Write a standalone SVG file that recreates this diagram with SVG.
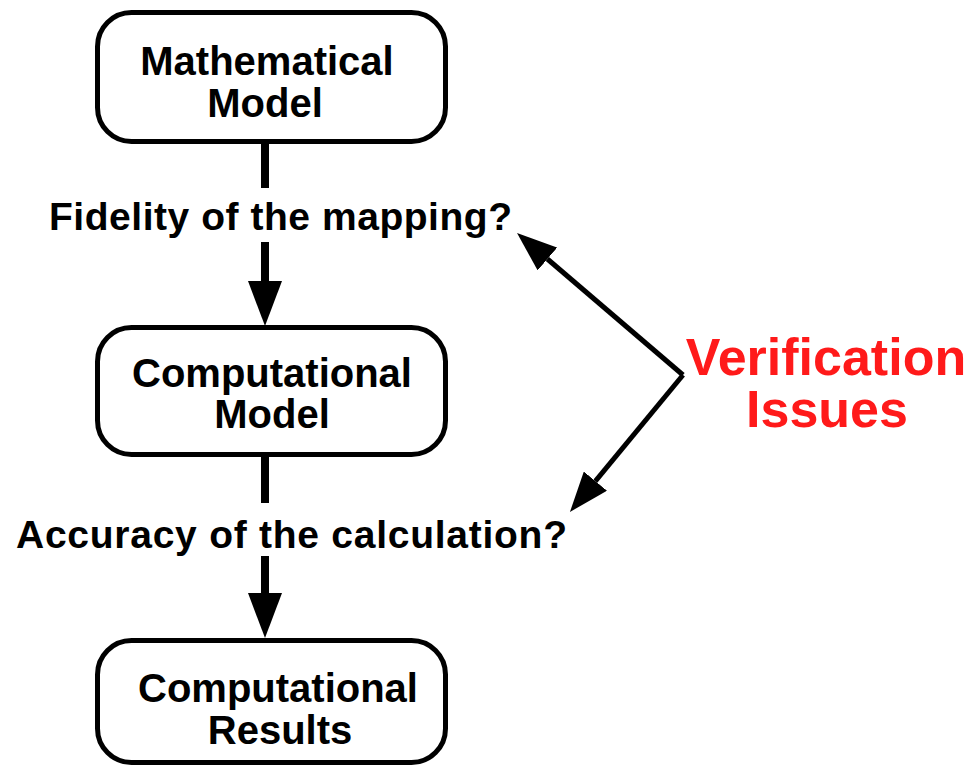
<svg xmlns="http://www.w3.org/2000/svg" width="973" height="767" viewBox="0 0 973 767">
  <style>
    .box { fill: #ffffff; stroke: #000000; stroke-width: 5; }
    .lbl { font-family: "Liberation Sans", Arial, Helvetica, sans-serif; font-weight: bold; fill: #000000; }
    .node { font-size: 40px; text-anchor: middle; }
    .q { font-size: 39px; }
    .red { font-family: "Liberation Sans", Arial, Helvetica, sans-serif; font-weight: bold; font-size: 52px; fill: #ff1a1a; text-anchor: middle; }
    .flow { stroke: #000000; stroke-width: 8; fill: none; }
    .diag { stroke: #000000; stroke-width: 5; fill: none; }
  </style>
  <defs>
    <marker id="headBig" markerUnits="userSpaceOnUse" viewBox="0 0 45 34" markerWidth="45" markerHeight="34" refX="0" refY="17" orient="auto">
      <path d="M0,0 L45,17 L0,34 z" fill="#000000"/>
    </marker>
    <marker id="headSmall" markerUnits="userSpaceOnUse" viewBox="0 0 40 30" markerWidth="40" markerHeight="30" refX="0" refY="15" orient="auto">
      <path d="M0,0 L40,15 L0,30 z" fill="#000000"/>
    </marker>
  </defs>
  <rect width="973" height="767" fill="#ffffff"/>

  <g id="connectors">
    <line class="flow" x1="265" y1="142" x2="265" y2="188"/>
    <line class="flow" x1="265" y1="242" x2="265" y2="281" marker-end="url(#headBig)"/>
    <line class="flow" x1="265" y1="456" x2="265" y2="503"/>
    <line class="flow" x1="265" y1="556" x2="265" y2="593" marker-end="url(#headBig)"/>
    <line class="diag" x1="683" y1="375" x2="547.4" y2="259" marker-end="url(#headSmall)"/>
    <line class="diag" x1="683" y1="375" x2="595.4" y2="481.1" marker-end="url(#headSmall)"/>
  </g>

  <g id="mathematical-model">
    <rect class="box" x="97.5" y="12.5" width="348" height="129" rx="34"/>
    <text class="lbl node" x="267" y="75">Mathematical</text>
    <text class="lbl node" x="265" y="117">Model</text>
  </g>

  <g id="computational-model">
    <rect class="box" x="97.5" y="327.5" width="348" height="127" rx="34"/>
    <text class="lbl node" x="272" y="387">Computational</text>
    <text class="lbl node" x="272" y="428">Model</text>
  </g>

  <g id="computational-results">
    <rect class="box" x="97.5" y="640.5" width="348" height="122" rx="34"/>
    <text class="lbl node" x="278" y="702">Computational</text>
    <text class="lbl node" x="280" y="744">Results</text>
  </g>

  <g id="label-fidelity">
    <text class="lbl q" x="49" y="230" textLength="463" lengthAdjust="spacing">Fidelity of the mapping?</text>
  </g>

  <g id="label-accuracy">
    <text class="lbl q" x="16" y="548" textLength="551" lengthAdjust="spacing">Accuracy of the calculation?</text>
  </g>

  <g id="verification-issues">
    <text class="red" x="826" y="375">Verification</text>
    <text class="red" x="827" y="427">Issues</text>
  </g>
</svg>
